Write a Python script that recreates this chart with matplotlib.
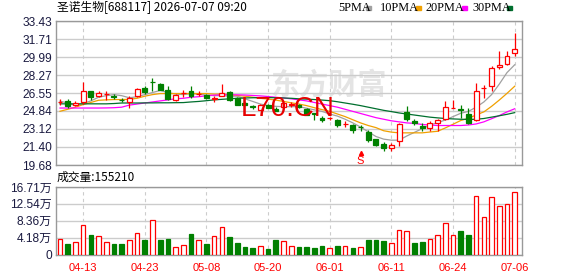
import numpy as np
import matplotlib.pyplot as plt
from matplotlib.patches import Rectangle

plt.rcParams['font.family'] = ['Liberation Sans', 'Noto Sans CJK SC']

# ==================== 数据 ====================
dates = ['04-08', '04-09', '04-10', '04-13', '04-14', '04-15', '04-16', '04-17', '04-20', '04-21',
         '04-22', '04-23', '04-24', '04-27', '04-28', '04-29', '04-30', '05-06', '05-07', '05-08',
         '05-11', '05-12', '05-13', '05-14', '05-15', '05-18', '05-19', '05-20', '05-21', '05-22',
         '05-25', '05-26', '05-27', '05-28', '05-29', '06-01', '06-02', '06-03', '06-04', '06-05',
         '06-08', '06-09', '06-10', '06-11', '06-12', '06-15', '06-16', '06-17', '06-18', '06-22',
         '06-23', '06-24', '06-25', '06-26', '06-29', '06-30', '07-01', '07-02', '07-03', '07-06']
tick_dates = ['04-13', '04-23', '05-08', '05-20', '06-01', '06-11', '06-24', '07-06']

opens = [25.70, 25.77, 25.45, 25.67, 26.70, 26.31, 26.44, 26.22, 25.88, 25.67,
         26.31, 27.00, 27.65, 27.46, 26.82, 25.86, 26.55, 26.72, 26.42, 26.41,
         26.00, 26.31, 26.66, 26.10, 25.60, 25.26, 24.97, 25.40, 25.06, 25.25,
         25.43, 25.45, 25.04, 24.60, 24.18, 24.16, 24.02, 23.58, 23.54, 23.30,
         22.84, 22.17, 21.72, 21.31, 21.95, 24.75, 23.92, 23.45, 23.23, 23.70,
         24.11, 25.13, 25.04, 24.56, 24.02, 27.02, 27.20, 29.05, 29.37, 30.39]
highs = [26.00, 26.00, 25.77, 27.65, 26.75, 26.70, 26.76, 26.50, 26.10, 26.30,
         27.05, 27.20, 28.00, 27.50, 27.20, 26.50, 26.80, 27.27, 26.70, 26.45,
         26.30, 27.37, 26.70, 26.15, 25.65, 25.45, 25.50, 25.50, 25.20, 25.65,
         25.70, 25.50, 25.10, 24.66, 24.40, 24.30, 24.05, 23.85, 23.60, 23.50,
         23.05, 22.20, 21.90, 21.79, 23.70, 25.29, 24.10, 23.70, 23.90, 24.10,
         25.77, 25.85, 25.40, 25.10, 27.50, 27.30, 29.10, 30.60, 30.55, 32.30]
lows = [25.45, 25.14, 25.30, 25.52, 25.86, 26.15, 25.90, 25.95, 25.70, 25.14,
        26.20, 26.50, 26.72, 26.80, 25.86, 25.77, 26.20, 26.10, 26.25, 26.00,
        25.70, 26.25, 25.80, 25.40, 25.40, 25.00, 24.90, 25.10, 24.80, 25.20,
        25.20, 25.10, 24.45, 23.95, 23.75, 24.00, 23.35, 23.30, 22.75, 22.90,
        21.90, 21.50, 21.00, 21.00, 21.53, 23.90, 23.50, 22.90, 22.90, 22.90,
        24.00, 25.10, 24.20, 23.60, 23.90, 26.10, 26.70, 28.85, 29.20, 30.07]
closes = [25.74, 25.29, 25.61, 26.79, 26.19, 26.57, 26.47, 26.19, 25.86, 26.10,
          26.95, 26.63, 27.58, 26.82, 26.00, 26.41, 26.57, 26.31, 26.45, 26.10,
          26.05, 26.57, 25.93, 25.45, 25.45, 25.23, 25.38, 25.15, 24.87, 25.58,
          25.46, 25.20, 24.50, 24.56, 23.95, 24.18, 23.47, 23.60, 23.00, 23.28,
          22.11, 21.63, 21.31, 21.63, 23.61, 24.11, 23.70, 23.23, 23.70, 24.02,
          25.23, 25.16, 24.91, 23.70, 26.79, 27.05, 28.96, 29.27, 30.13, 30.77]

ma5 = [25.77, 25.60, 25.35, 25.55, 25.80, 26.15, 26.30, 26.40, 26.30, 26.10,
       26.20, 26.40, 26.60, 26.80, 26.60, 26.45, 26.40, 26.50, 26.45, 26.35,
       26.30, 26.30, 26.25, 26.25, 26.00, 25.75, 25.50, 25.35, 25.28, 25.25,
       25.25, 25.25, 25.10, 24.95, 24.80, 24.55, 24.35, 24.05, 23.70, 23.30,
       22.85, 22.40, 22.15, 22.05, 22.05, 22.45, 22.80, 23.15, 23.50, 23.72,
       23.98, 24.30, 24.62, 24.80, 25.20, 25.70, 26.40, 27.40, 28.50, 29.25]
ma10 = [24.81, 25.00, 25.20, 25.45, 25.65, 25.86, 25.90, 25.93, 25.93, 25.95,
        26.05, 26.25, 26.40, 26.50, 26.50, 26.50, 26.50, 26.50, 26.50, 26.50,
        26.45, 26.45, 26.40, 26.32, 26.25, 26.15, 26.05, 25.97, 25.88, 25.75,
        25.62, 25.50, 25.35, 25.15, 24.97, 24.80, 24.55, 24.30, 24.00, 23.70,
        23.45, 23.25, 22.95, 22.82, 22.75, 22.75, 22.75, 22.75, 22.83, 22.90,
        23.22, 23.57, 23.93, 24.14, 24.46, 24.75, 25.28, 25.88, 26.52, 27.20]
ma20 = [25.12, 25.12, 25.12, 25.12, 25.12, 25.12, 25.13, 25.15, 25.20, 25.40,
        25.50, 25.60, 25.70, 25.80, 25.90, 26.00, 26.05, 26.15, 26.20, 26.30,
        26.35, 26.38, 26.38, 26.38, 26.36, 26.32, 26.28, 26.22, 26.15, 26.08,
        26.00, 25.90, 25.80, 25.65, 25.50, 25.35, 25.20, 25.00, 24.80, 24.60,
        24.40, 24.20, 24.05, 23.90, 23.80, 23.70, 23.65, 23.55, 23.50, 23.45,
        23.45, 23.45, 23.45, 23.50, 23.60, 23.80, 24.10, 24.40, 24.75, 25.05]
ma30 = [25.52, 25.52, 25.52, 25.52, 25.52, 25.52, 25.52, 25.55, 25.60, 25.60,
        25.60, 25.61, 25.61, 25.62, 25.62, 25.63, 25.64, 25.70, 25.75, 25.82,
        25.90, 25.95, 26.00, 26.05, 26.08, 26.10, 26.12, 26.12, 26.10, 26.08,
        26.05, 26.00, 25.97, 25.93, 25.88, 25.82, 25.72, 25.60, 25.48, 25.35,
        25.20, 25.05, 24.90, 24.78, 24.65, 24.55, 24.45, 24.35, 24.25, 24.18,
        24.12, 24.08, 24.05, 24.03, 24.05, 24.12, 24.25, 24.38, 24.52, 24.68]

# 成交量（万），颜色按涨跌：1 红 / 0 绿
volume = [3.8, 2.5, 3.0, 7.3, 4.8, 4.5, 3.0, 2.5, 2.5, 3.5,
          5.3, 3.5, 8.5, 3.5, 3.8, 1.9, 2.3, 5.0, 3.5, 2.5,
          4.5, 6.7, 4.3, 2.8, 1.8, 1.5, 2.2, 1.4, 3.6, 3.3,
          2.2, 1.8, 1.8, 1.5, 2.1, 1.7, 2.1, 2.0, 1.5, 1.8,
          3.5, 3.5, 3.3, 2.8, 6.0, 5.7, 2.8, 3.0, 3.8, 4.8,
          7.7, 4.8, 5.8, 4.8, 14.5, 9.4, 14.2, 12.0, 12.6, 15.521]
vol_up = [1, 0, 1, 1, 0, 1, 1, 0, 0, 1,
          1, 0, 1, 0, 0, 1, 1, 0, 1, 0,
          1, 1, 0, 0, 0, 0, 1, 0, 0, 1,
          1, 0, 0, 0, 0, 1, 0, 1, 0, 1,
          0, 0, 0, 1, 1, 1, 0, 0, 1, 1,
          1, 1, 0, 0, 1, 1, 1, 1, 1, 1]

price_ticks = [19.68, 21.40, 23.12, 24.84, 26.55, 28.27, 29.99, 31.71, 33.43]
vol_ticks = [0, 4.18, 8.36, 12.54, 16.71]

ma_names = ['5PMA', '10PMA', '20PMA', '30PMA']
ma_colors = ['#a0a0a0', '#f0a000', '#ff00ff', '#006f2e']

RED = '#ff0000'
GREEN = '#008000'
GRID = '#cccccc'
FRAME = '#999999'

# ==================== 画布 ====================
W, H = 578, 276
fig = plt.figure(figsize=(W / 100, H / 100), dpi=100)
ax = fig.add_axes([56 / W, 1 - 165 / H, 466 / W, 144 / H])
axv = fig.add_axes([56 / W, 1 - 254.5 / H, 466 / W, 67.5 / H])

x = np.arange(len(dates))
tick_pos = [dates.index(d) for d in tick_dates]

for a in (ax, axv):
    for s in a.spines.values():
        s.set_color(FRAME)
        s.set_linewidth(1.0)
    a.set_xlim(-0.52, len(dates) - 1 + 0.95)
    a.set_xticks(tick_pos)
    for p in tick_pos:
        a.axvline(p, color=GRID, lw=0.8, ls=(0, (3, 3)), zorder=0)
    a.tick_params(axis='both', length=0)

# ==================== K 线 ====================
o = np.array(opens)
c = np.array(closes)
up = c >= o
for i in range(len(x)):
    col = RED if up[i] else GREEN
    ax.vlines(x[i], lows[i], highs[i], color=col, lw=0.9, zorder=3)
    body = max(abs(c[i] - o[i]), 0.04)
    ax.bar(x[i], body, bottom=min(o[i], c[i]), width=0.64,
           facecolor='white' if up[i] else GREEN, edgecolor=col, lw=0.9, zorder=4)

for vals, col in zip([ma5, ma10, ma20, ma30], ma_colors):
    ax.plot(x, vals, color=col, lw=0.9, zorder=2)

ax.set_ylim(price_ticks[0], price_ticks[-1])
ax.set_yticks(price_ticks)
ax.set_yticklabels([f'{v:.2f}' for v in price_ticks])
ax.yaxis.grid(True, color=GRID, lw=1.0, zorder=0)
ax.tick_params(axis='y', pad=3, labelsize=8.6, labelcolor='#1a1a40')
ax.tick_params(axis='x', labelbottom=False)

# 水印
ax.text(0.585, 0.56, '东方财富', transform=ax.transAxes, fontsize=21, color='#e4e4e4',
        fontweight='bold', ha='center', va='center', family=['Noto Sans CJK SC'], zorder=1)
ax.text(0.497, 0.39, 'L70.CN', transform=ax.transAxes, fontsize=20, color='#e60000',
        ha='center', va='center', zorder=5)

# 信号标记
mark = dates.index('06-05')
ax.text(mark, 0.03, 'S', transform=ax.get_xaxis_transform(), color=RED, fontsize=8,
        ha='center', va='center', zorder=5)
ax.plot(mark, 0.08, marker='^', ms=3, color=RED, transform=ax.get_xaxis_transform(), zorder=5)

# ==================== 成交量 ====================
vcol = [RED if u else GREEN for u in vol_up]
vface = ['white' if u else GREEN for u in vol_up]
axv.bar(x, volume, width=0.6, facecolor=vface, edgecolor=vcol, lw=0.9, zorder=3)
axv.set_ylim(vol_ticks[0], vol_ticks[-1])
axv.set_yticks(vol_ticks)
axv.set_yticklabels([f'{v:.2f}万' if v else '0' for v in vol_ticks])
axv.yaxis.grid(True, color=GRID, lw=1.0, zorder=0)
axv.tick_params(axis='y', pad=3, labelsize=8.6, labelcolor='#1a1a40')
axv.set_xticklabels(tick_dates)
axv.tick_params(axis='x', pad=6, labelsize=8, labelcolor=RED)

# ==================== 文字 ====================
fig.text(57 / W, 1 - 8 / H, '圣诺生物[688117] 2026-07-07 09:20', fontsize=8.5,
         va='center', family=['Noto Sans CJK SC'])
fig.text(57 / W, 1 - 177 / H, f'成交量:{int(round(volume[-1] * 1e4))}', fontsize=8.5,
         va='center', family=['Noto Sans CJK SC'])

leg_x = [338, 380, 425, 472]
sq_x = [366, 416, 462, 507]
for name, col, lx, sx in zip(ma_names, ma_colors, leg_x, sq_x):
    fig.text(lx / W, 1 - 8 / H, name, fontsize=8.8, va='center', family=['Liberation Serif'])
    fig.add_artist(Rectangle((sx / W, 1 - 9.5 / H), 5 / W, 3 / H, color=col,
                             transform=fig.transFigure))

fig.savefig('out.png', dpi=100)
